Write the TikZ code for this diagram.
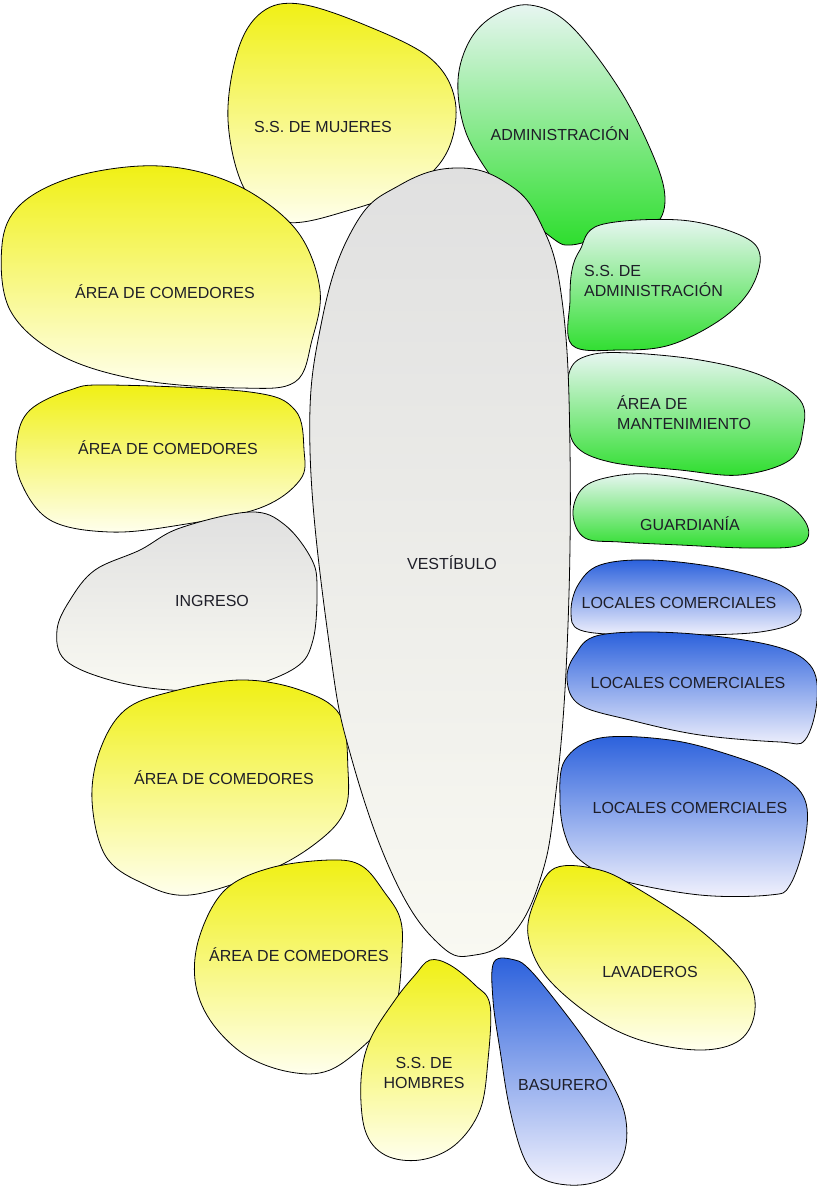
\documentclass[tikz,border=0pt]{standalone}
\usepackage{fontspec}
\setmainfont{Liberation Sans}
\usetikzlibrary{positioning}
\definecolor{yellowTop}{RGB}{240, 240, 20}
\definecolor{yellowBottom}{RGB}{255, 255, 238}
\definecolor{greenTop}{RGB}{232, 246, 242}
\definecolor{greenBottom}{RGB}{45, 222, 45}
\definecolor{blueTop}{RGB}{42, 96, 220}
\definecolor{blueMid}{RGB}{208, 208, 248}
\definecolor{blueBottom}{RGB}{242, 242, 253}
\definecolor{grayTop}{RGB}{224, 224, 224}
\definecolor{grayBottom}{RGB}{249, 249, 242}
\definecolor{labelInk}{RGB}{30, 30, 40}

\tikzset{
  petal/.style={draw=black, line width=0.8pt},
  yellowpetal/.style={petal, top color=yellowTop, bottom color=yellowBottom},
  greenpetal/.style={petal, top color=greenTop, bottom color=greenBottom},
  bluepetal/.style={petal, top color=blueTop, middle color=blueMid, bottom color=blueBottom},
  graypetal/.style={petal, top color=grayTop, bottom color=grayBottom},
  roomlabel/.style={text=labelInk, font=\fontsize{16}{20}\selectfont, align=center, inner sep=0pt},
  roomlabelleft/.style={roomlabel, align=left, anchor=west}
}

\begin{document}
\begin{tikzpicture}[x=1pt, y=-1pt]
            \useasboundingbox (0,0) rectangle (817,1187);

            % Left side
            \path[yellowpetal] plot[smooth cycle, tension=0.6] coordinates {(300,4) (365,25) (430,58) (455,100) (448,150) (415,185) (350,210) (285,222) (245,190) (228,120) (238,50) (262,12)};
            \path[yellowpetal] plot[smooth cycle, tension=0.6] coordinates {(140,166) (200,172) (255,195) (300,235) (320,290) (312,340) (295,382) (240,388) (140,380) (60,355) (10,310) (2,245) (20,205) (70,178)};
            \path[yellowpetal] plot[smooth cycle, tension=0.6] coordinates {(110,385) (250,392) (295,410) (304,450) (300,480) (260,508) (180,525) (110,532) (50,520) (20,480) (17,440) (30,410) (70,390)};
            \path[graypetal] plot[smooth cycle, tension=0.6] coordinates {(250,512) (285,525) (312,560) (317,590) (313,640) (295,668) (240,688) (170,690) (110,680) (65,660) (57,630) (70,600) (95,570) (140,550) (180,528)};
            \path[yellowpetal] plot[smooth cycle, tension=0.6] coordinates {(240,680) (300,690) (340,715) (348,770) (345,810) (320,840) (270,870) (190,895) (140,882) (105,855) (92,800) (100,750) (125,710) (170,692)};
            \path[yellowpetal] plot[smooth cycle, tension=0.6] coordinates {(330,860) (362,866) (385,893) (400,918) (402,950) (395,1010) (370,1040) (330,1070) (290,1072) (245,1055) (210,1020) (195,980) (200,935) (225,890) (270,868)};
            \path[yellowpetal] plot[smooth cycle, tension=0.6] coordinates {(430,960) (450,965) (475,985) (490,1005) (488,1060) (480,1110) (455,1145) (420,1160) (385,1155) (365,1130) (361,1080) (370,1040) (395,1000) (415,975)};

            % Right side
            \path[greenpetal] plot[smooth cycle, tension=0.6] coordinates {(530,5) (570,25) (620,90) (655,160) (665,200) (655,225) (625,235) (595,240) (570,245) (555,240) (520,210) (490,175) (465,130) (458,80) (470,40) (495,15)};
            \path[greenpetal] plot[smooth cycle, tension=0.6] coordinates {(600,225) (680,220) (740,235) (760,255) (750,290) (720,320) (670,345) (620,350) (572,345) (570,300) (572,270) (580,250)};
            \path[greenpetal] plot[smooth cycle, tension=0.6] coordinates {(590,355) (630,353) (700,360) (760,375) (800,400) (803,430) (790,460) (740,475) (680,470) (610,462) (575,445) (568,410) (570,370)};
            \path[greenpetal] plot[smooth cycle, tension=0.6] coordinates {(605,478) (650,474) (720,485) (780,500) (807,525) (800,545) (750,548) (680,545) (620,542) (585,538) (573,515) (581,490)};
            \path[bluepetal] plot[smooth cycle, tension=0.6] coordinates {(600,565) (650,560) (720,568) (780,585) (800,605) (795,622) (760,632) (700,635) (630,635) (580,630) (571,612) (578,585)};
            \path[bluepetal] plot[smooth cycle, tension=0.6] coordinates {(600,635) (680,633) (770,645) (810,665) (817,700) (805,740) (780,742) (700,735) (630,720) (580,705) (567,680) (575,655)};
            \path[bluepetal] plot[smooth cycle, tension=0.6] coordinates {(600,738) (670,740) (730,755) (780,775) (805,800) (805,840) (790,885) (770,895) (700,895) (620,880) (580,860) (565,835) (560,800) (565,760)};
            \path[yellowpetal] plot[smooth cycle, tension=0.6] coordinates {(555,868) (600,870) (640,890) (700,930) (745,975) (755,1010) (740,1040) (700,1050) (640,1040) (590,1015) (545,975) (528,935) (535,900)};
            \path[bluepetal] plot[smooth cycle, tension=0.6] coordinates {(494,962) (515,960) (530,970) (555,1000) (585,1040) (610,1080) (625,1115) (625,1150) (610,1175) (580,1185) (545,1180) (525,1160) (510,1110) (500,1050) (493,1000)};

            % Centre
            \path[graypetal] plot[smooth cycle, tension=0.7] coordinates {(455,168) (505,182) (540,222) (562,300) (570,450) (567,650) (555,800) (540,880) (512,935) (475,955) (440,945) (395,880) (352,760) (330,650) (310,450) (322,320) (355,225) (400,185)};

            % Labels
            \node[roomlabel] (mujeres) at (323,127) {S.S. DE MUJERES};
            \node[roomlabel] (comedor1) at (165,292) {ÁREA DE COMEDORES};
            \node[roomlabel] (comedor2) at (168,448) {ÁREA DE COMEDORES};
            \node[roomlabel] (ingreso) at (212,601) {INGRESO};
            \node[roomlabel] (comedor3) at (224,778) {ÁREA DE COMEDORES};
            \node[roomlabel] (comedor4) at (299,955) {ÁREA DE COMEDORES};
            \node[roomlabel] (hombres) at (424,1073) {S.S. DE\\HOMBRES};
            \node[roomlabel] (admin) at (560,134) {ADMINISTRACIÓN};
            \node[roomlabelleft] (ssadmin) at (584,281) {S.S. DE\\ADMINISTRACIÓN};
            \node[roomlabelleft] (mant) at (617,413) {ÁREA DE\\MANTENIMIENTO};
            \node[roomlabel] (guardia) at (690,524) {GUARDIANÍA};
            \node[roomlabel] (locales1) at (679,603) {LOCALES COMERCIALES};
            \node[roomlabel] (locales2) at (688,683) {LOCALES COMERCIALES};
            \node[roomlabel] (locales3) at (690,808) {LOCALES COMERCIALES};
            \node[roomlabel] (lavaderos) at (650,972) {LAVADEROS};
            \node[roomlabel] (basurero) at (563,1085) {BASURERO};
            \node[roomlabel] (vestibulo) at (452,563) {VESTÍBULO};
\end{tikzpicture}
\end{document}
